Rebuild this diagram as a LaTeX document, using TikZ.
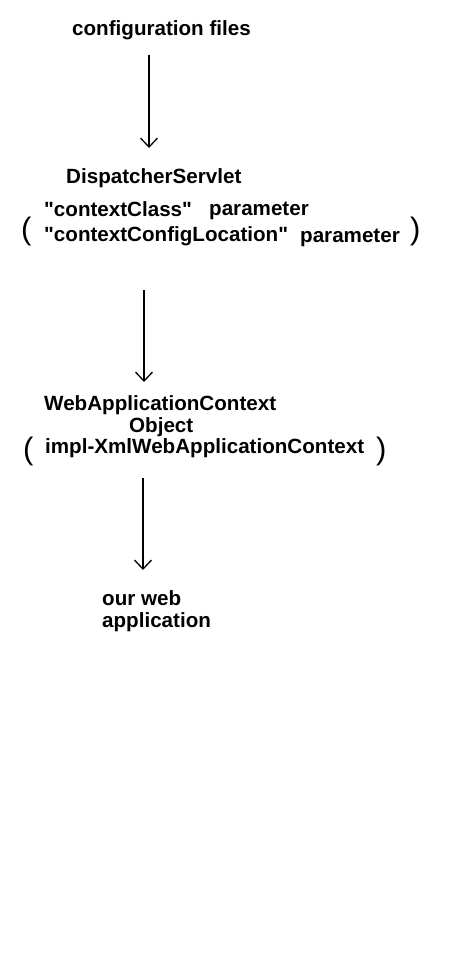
\documentclass[tikz,border=0pt]{standalone}
\usepackage{fontspec}
\setmainfont{Liberation Sans}[Ligatures=TeXOff]
\usetikzlibrary{arrows.meta}
\begin{document}
\begin{tikzpicture}[x=1pt,y=-1pt,
  lbl/.style={inner sep=0pt,anchor=base west,font=\fontsize{20.6}{24}\selectfont\bfseries},
  paren/.style={inner sep=0pt,anchor=base west,font=\fontsize{31}{31}\selectfont},
  flow/.style={line width=1.6pt,-{Straight Barb[length=9pt,width=17pt,line width=1.3pt]}}]
\useasboundingbox (0,0) rectangle (455,968);
\fill[white] (0,0) rectangle (455,968);
% texts
\node[lbl] (cfg) at (72,36) {configuration files};
\node[lbl] (ds) at (66,184) {DispatcherServlet};
\node[paren] (lp1) at (21,239.5) {(};
\node[lbl] (cc) at (44,217) {"contextClass"};
\node[lbl] (ccp) at (209,215) {parameter};
\node[lbl] (ccl) at (44,242) {"contextConfigLocation"};
\node[lbl] (cclp) at (300,243) {parameter};
\node[paren] (rp1) at (410,239.5) {)};
\node[lbl] (wac) at (44,410) {WebApplicationContext};
\node[lbl] (obj) at (129,432) {Object};
\node[paren] (lp2) at (23,459.5) {(};
\node[lbl] (impl) at (45,453) {impl-XmlWebApplicationContext};
\node[paren] (rp2) at (376,459.5) {)};
\node[lbl] (our) at (102,605) {our web};
\node[lbl] (app) at (102,627) {application};
% arrow endpoints
\coordinate (a1s) at (149,55);
\coordinate (a1e) at (149,148);
\coordinate (a2s) at (144,290);
\coordinate (a2e) at (144,382);
\coordinate (a3s) at (143,478);
\coordinate (a3e) at (143,570);
\draw[flow] (a1s) -- (a1e);
\draw[flow] (a2s) -- (a2e);
\draw[flow] (a3s) -- (a3e);
\end{tikzpicture}
\end{document}
